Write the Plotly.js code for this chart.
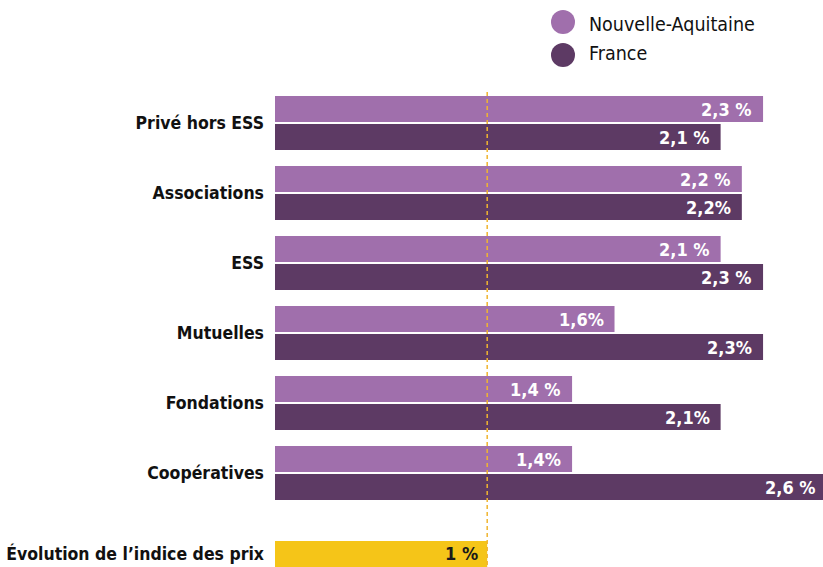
<!DOCTYPE html>
<html>
<head>
<meta charset="utf-8">
<script src="https://cdn.plot.ly/plotly-3.0.1.min.js"></script>
<style>html,body{margin:0;padding:0;background:#fff;}#chart{width:823px;height:567px;}</style>
</head>
<body>
<div id="chart"></div>
<script>
// ---- data ----
const categories = ["Privé hors ESS", "Associations", "ESS", "Mutuelles", "Fondations", "Coopératives"];
const naValues = [2.3, 2.2, 2.1, 1.6, 1.4, 1.4];
const naLabels = ["2,3 %", "2,2 %", "2,1 %", "1,6%", "1,4 %", "1,4%"];
const frValues = [2.1, 2.2, 2.3, 2.3, 2.1, 2.6];
const frLabels = ["2,1 %", "2,2%", "2,3 %", "2,3%", "2,1%", "2,6 %"];
const indexLabel = "Évolution de l’indice des prix";
const indexValue = [1];
const indexText = ["1 %"];
const seriesNames = ["Nouvelle-Aquitaine", "France"];

// ---- styling ----
const cNA = "#a06fac", cFR = "#5d3a64", cIdx = "#f5c518", cDash = "#f0b530";
const FONT = "'DejaVu Sans Condensed', 'Liberation Sans Narrow', sans-serif";
const barW = 0.3714, half = 0.2, idxGap = 0.157;
const pxPerUnit = 212.2, plotW = 548;
const xMax = plotW / pxPerUnit;

const rowPos = categories.map((c, i) => i);
const idxPos = categories.length + idxGap;

const traces = [
  {type: "bar", orientation: "h", x: naValues, y: rowPos.map(p => p - half), width: barW,
   marker: {color: cNA}, name: seriesNames[0], showlegend: false, hoverinfo: "x"},
  {type: "bar", orientation: "h", x: frValues, y: rowPos.map(p => p + half), width: barW,
   marker: {color: cFR}, name: seriesNames[1], showlegend: false, hoverinfo: "x"},
  {type: "bar", orientation: "h", x: indexValue, y: [idxPos], width: barW,
   marker: {color: cIdx}, name: indexLabel, showlegend: false, hoverinfo: "x"}
];

function valueLabel(v, y, txt, color, pad) {
  const clipped = v > xMax;
  return {x: clipped ? xMax : v, y: y, xref: "x", yref: "y", text: txt, showarrow: false,
    xanchor: "right", xshift: -pad + (clipped ? (v - xMax) * pxPerUnit : 0),
    font: {family: FONT, size: 18, color: color, weight: 700}};
}
const annotations = [];
naValues.forEach((v, i) => annotations.push(valueLabel(v, rowPos[i] - half, naLabels[i], "#fff", 9)));
frValues.forEach((v, i) => annotations.push(valueLabel(v, rowPos[i] + half, frLabels[i], "#fff", 9)));
annotations.push(valueLabel(indexValue[0], idxPos, indexText[0], "#1a1a1a", 7));

// legend (custom, big circles)
const legY = [22, 55];
const legTextY = [24, 54];
const shapes = [];
[cNA, cFR].forEach((c, i) => {
  shapes.push({type: "circle", xref: "paper", yref: "paper", xsizemode: "pixel", ysizemode: "pixel",
    xanchor: (563 - 275) / plotW, yanchor: 1 + (80 - legY[i]) / 487,
    x0: -12, x1: 12, y0: -12, y1: 12, fillcolor: c, line: {width: 0}});
  annotations.push({xref: "paper", yref: "paper", x: (587 - 275) / plotW, y: 1 + (80 - legTextY[i]) / 487,
    xanchor: "left", yanchor: "middle", text: seriesNames[i], showarrow: false,
    font: {family: FONT, size: 19.5, color: "#111"}});
});

// reference line at price index
shapes.push({type: "line", xref: "x", yref: "y", x0: indexValue[0], x1: indexValue[0],
  y0: -0.443, y1: 6.343, line: {color: cDash, width: 1.5, dash: "4px,3px"}, layer: "above"});

const layout = {
  width: 823, height: 567,
  margin: {l: 275, r: 0, t: 80, b: 0},
  paper_bgcolor: "#fff", plot_bgcolor: "#fff",
  barmode: "overlay",
  showlegend: false,
  xaxis: {range: [0, xMax], visible: false, fixedrange: true},
  yaxis: {range: [6.3429, -0.6143], tickvals: rowPos.concat([idxPos]), ticktext: categories.concat([indexLabel]),
    showgrid: false, zeroline: false, showline: false, ticks: "", ticklabelstandoff: 10,
    tickfont: {family: FONT, size: 17.5, color: "#111", weight: 700}, fixedrange: true},
  shapes: shapes,
  annotations: annotations
};

Plotly.newPlot("chart", traces, layout, {displayModeBar: false, staticPlot: true});
</script>
</body>
</html>
